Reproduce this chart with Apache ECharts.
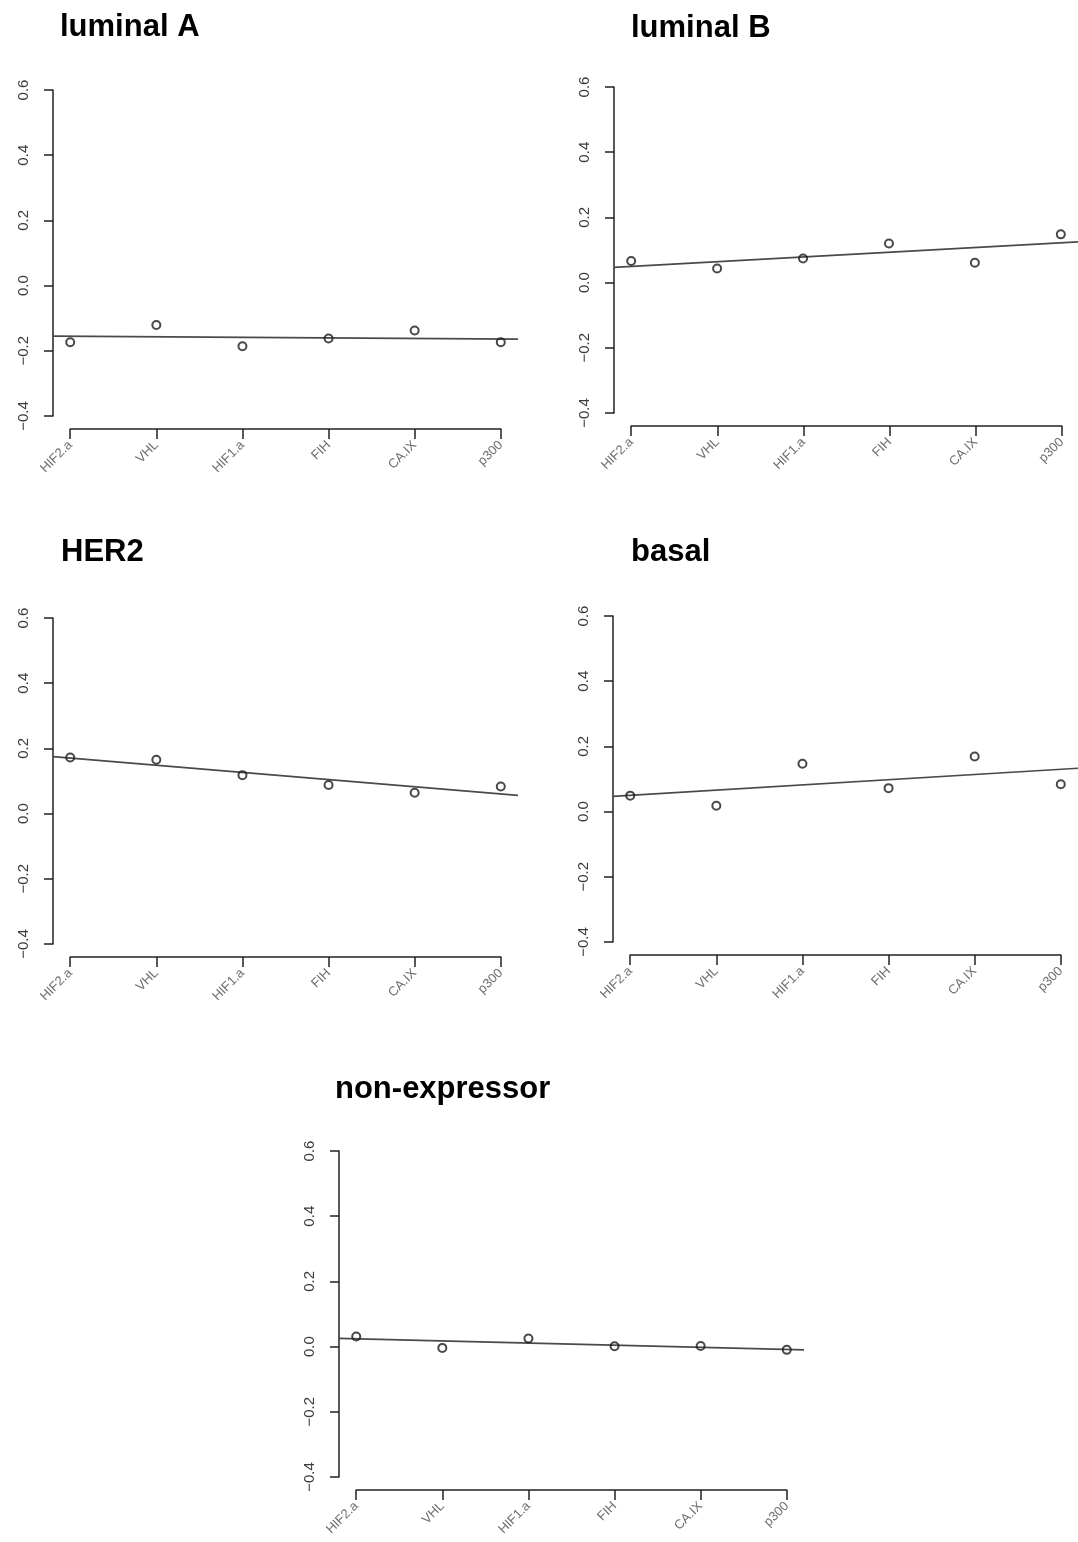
<!DOCTYPE html>
<html>
<head>
<meta charset="utf-8">
<script src="https://cdn.jsdelivr.net/npm/echarts@6/dist/echarts.min.js"></script>
<style>
  html, body { margin: 0; padding: 0; background: #fff; }
  #chart { width: 1078px; height: 1542px; }
</style>
</head>
<body>
<div id="chart"></div>
<script>
// ---- data ----
const categories = ['HIF2.a', 'VHL', 'HIF1.a', 'FIH', 'CA.IX', 'p300'];
const panelTitles = ['luminal A', 'luminal B', 'HER2', 'basal', 'non-expressor'];
const luminalA = [-0.174, -0.121, -0.186, -0.162, -0.138, -0.174];
const luminalB = [0.066, 0.043, 0.074, 0.120, 0.061, 0.148];
const her2 = [0.172, 0.165, 0.118, 0.088, 0.064, 0.083];
const basal = [0.049, 0.018, 0.147, 0.072, 0.169, 0.084];
const nonExpressor = [0.031, -0.004, 0.025, 0.001, 0.002, -0.010];
// fitted line value at the left / right edge of each plot region
const trendStart = [-0.155, 0.047, 0.175, 0.047, 0.025];
const trendEnd = [-0.164, 0.125, 0.056, 0.133, -0.010];
const yTickLabels = ['-0.4', '-0.2', '0.0', '0.2', '0.4', '0.6'];

const panelValues = [luminalA, luminalB, her2, basal, nonExpressor];

// ---- layout (pixels) ----
const layout = [
  { axL: 53, yTop: 90, titleX: 60, titleBase: 38 },
  { axL: 614, yTop: 87, titleX: 631, titleBase: 39 },
  { axL: 53, yTop: 618, titleX: 61, titleBase: 563 },
  { axL: 613, yTop: 616, titleX: 631, titleBase: 563 },
  { axL: 339, yTop: 1151, titleX: 335, titleBase: 1100 }
];
const XMIN = 0.8, XMAX = 6.2;
const plotW = 465, plotH = 326;
const catStep = plotW / (XMAX - XMIN);

const grids = [], xAxes = [], yAxes = [], series = [], graphics = [];
const axisColor = '#222';

layout.forEach((L, p) => {
  // data grid (plot region)
  grids.push({ left: L.axL, top: L.yTop, width: plotW, height: plotH, containLabel: false });
  // x-axis grid spanning only the first to last category
  grids.push({ left: L.axL + (1 - XMIN) * catStep, top: L.yTop + 338, width: 5 * catStep, height: 1, containLabel: false });

  const gi = p * 2;
  xAxes.push({
    gridIndex: gi, type: 'value', min: XMIN, max: XMAX, show: false
  });
  xAxes.push({
    gridIndex: gi + 1, type: 'category', data: categories, boundaryGap: false,
    axisLine: { show: true, lineStyle: { color: axisColor, width: 1.5 } },
    axisTick: { show: true, length: 10, inside: false, lineStyle: { color: axisColor, width: 1.5 } },
    axisLabel: {
      show: true, rotate: 45, interval: 0, margin: 14,
      fontSize: 13, color: '#707070', fontFamily: 'Liberation Sans, Arial, sans-serif'
    },
    splitLine: { show: false }
  });
  yAxes.push({
    gridIndex: gi, type: 'value', min: -0.4, max: 0.6, interval: 0.2,
    axisLine: { show: true, lineStyle: { color: axisColor, width: 1.5 } },
    axisTick: { show: true, length: 9, inside: false, lineStyle: { color: axisColor, width: 1.5 } },
    axisLabel: {
      show: true, rotate: 90, margin: 22, fontSize: 15, color: '#3a3a3a',
      fontFamily: 'Liberation Sans, Arial, sans-serif',
      formatter: function (v) {
        const idx = Math.round((v + 0.4) / 0.2);
        const s = yTickLabels[idx] !== undefined ? yTickLabels[idx] : v.toFixed(1);
        return s.replace('-', '\u2212');
      }
    },
    splitLine: { show: false }
  });
  yAxes.push({ gridIndex: gi + 1, type: 'value', show: false });

  // fitted line
  series.push({
    type: 'line', xAxisIndex: gi, yAxisIndex: gi,
    data: [[XMIN, trendStart[p]], [XMAX, trendEnd[p]]],
    symbol: 'none', silent: true, z: 2,
    lineStyle: { color: '#4a4a4a', width: 1.7 }
  });
  // points
  series.push({
    type: 'scatter', xAxisIndex: gi, yAxisIndex: gi,
    data: panelValues[p].map((v, i) => [i + 1, v]),
    symbol: 'circle', symbolSize: 8, z: 3,
    itemStyle: { color: 'rgba(255,255,255,0)', borderColor: '#1a1a1a', borderWidth: 2 }
  });

  graphics.push({
    type: 'text',
    x: L.titleX, y: L.titleBase - 10.7,
    style: {
      text: panelTitles[p], fill: '#000',
      font: 'bold 31px "Liberation Sans", Arial, sans-serif',
      align: 'left', verticalAlign: 'middle'
    }
  });
});

const chart = echarts.init(document.getElementById('chart'), null, { renderer: 'canvas' });
chart.setOption({
  backgroundColor: '#fff',
  animation: false,
  grid: grids,
  xAxis: xAxes,
  yAxis: yAxes,
  series: series,
  graphic: graphics
});
</script>
</body>
</html>
